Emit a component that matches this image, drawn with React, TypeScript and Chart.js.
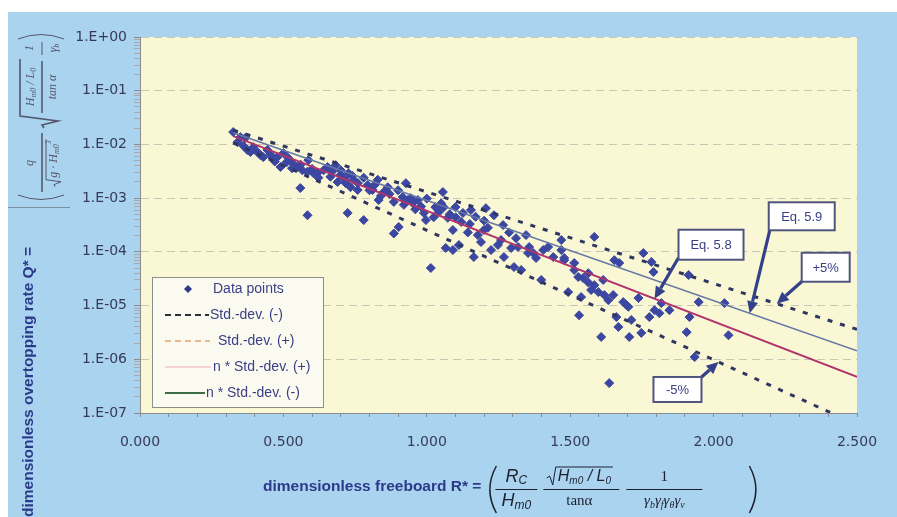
import React, { useEffect, useRef } from "react";
import { Chart, registerables } from "chart.js";

Chart.register(...registerables);

// ---------------- data ----------------
const R_DATA = [
  0.325, 0.35, 0.367, 0.374, 0.385, 0.395, 0.413, 0.43, 0.444, 0.462,
  0.479, 0.49, 0.5, 0.517, 0.531, 0.549, 0.559, 0.566, 0.584, 0.587,
  0.584, 0.605, 0.622, 0.64, 0.654, 0.664, 0.682, 0.689, 0.699, 0.71,
  0.717, 0.724, 0.727, 0.734, 0.745, 0.759, 0.78, 0.794, 0.811, 0.829,
  0.832, 0.85, 0.864, 0.885, 0.885, 0.902, 0.916, 0.927, 0.934, 0.951,
  0.969, 0.944, 0.99, 0.997, 1.014, 1.024, 1.042, 1.056, 1.059, 1.066,
  1.073, 1.091, 1.091, 1.101, 1.112, 1.126, 1.143, 1.154, 1.164, 1.178,
  1.189, 1.206, 1.213, 1.224, 1.234, 1.248, 1.266, 1.269, 1.287, 1.294,
  1.304, 1.311, 1.329, 1.346, 1.357, 1.371, 1.381, 1.399, 1.406, 1.423,
  1.441, 1.469, 1.479, 1.493, 1.514, 1.528, 1.469, 1.479, 1.514, 1.531,
  1.538, 1.545, 1.563, 1.573, 1.584, 1.584, 1.598, 1.608, 1.615, 1.619,
  1.633, 1.636, 1.65, 1.654, 1.661, 1.668, 1.671, 1.685, 1.696, 1.706,
  1.713, 1.738, 1.748, 1.755, 1.776, 1.783, 1.79, 1.794, 1.811, 1.818,
  1.846, 1.906, 1.913, 1.916, 1.934, 1.948, 2.038, 2.052,
  0.34, 0.36, 0.4, 0.42, 0.455, 0.47, 0.51, 0.53, 0.56, 0.6,
  0.62, 0.67, 0.7, 0.72, 0.74, 0.76, 0.78, 0.8, 0.82, 0.84,
  0.87, 0.9, 0.92, 0.96, 0.98, 1.0, 1.03, 1.05, 1.08, 1.1,
  1.12, 1.15, 1.17, 1.2, 1.199, 1.259, 1.318, 1.353, 1.563, 1.703,
];
const Q_DATA = [
  1.7e-2, 1.37e-2, 1.32e-2, 7.9e-3, 7.2e-3, 8.9e-3, 6.9e-3, 5.8e-3, 7.9e-3, 5.6e-3,
  5.8e-3, 3.8e-3, 6.9e-3, 5.6e-3, 4.5e-3, 3.8e-3, 1.54e-3, 3.3e-3, 3.1e-3, 5.1e-3,
  4.8e-4, 2.9e-3, 2.4e-3, 3.3e-3, 3.8e-3, 2.5e-3, 4.1e-3, 2.0e-3, 2.7e-3, 2.4e-3,
  1.9e-3, 5.3e-4, 2.9e-3, 1.6e-3, 2.2e-3, 1.42e-3, 3.9e-4, 1.75e-3, 1.42e-3, 2.2e-3,
  9.2e-4, 1.3e-3, 1.6e-3, 8.5e-4, 2.2e-4, 2.9e-4, 1.05e-3, 1.9e-3, 9.2e-4, 8.1e-4,
  9.2e-4, 1.0e-3, 5.3e-4, 3.9e-4, 5.0e-5, 4.4e-4, 5.5e-4, 1.3e-3, 6.8e-4, 1.18e-4,
  4.3e-4, 1.08e-4, 2.55e-4, 4.4e-4, 1.34e-4, 5.3e-4, 2.3e-4, 6.0e-4, 8.0e-5, 2.05e-4,
  1.52e-4, 6.5e-4, 2.8e-4, 1.08e-4, 4.8e-4, 1.34e-4, 3.15e-4, 8.0e-5, 2.3e-4, 1.18e-4,
  5.2e-5, 1.8e-4, 4.6e-5, 2.05e-4, 1.23e-4, 9.5e-5, 7.7e-5, 3.0e-5, 1.08e-4, 1.23e-4,
  8.0e-5, 1.66e-4, 7.7e-5, 1.78e-5, 6.2e-5, 3.4e-5, 1.08e-4, 7.0e-5, 4.6e-5, 6.6e-6,
  1.44e-5, 3.25e-5, 2.7e-5, 1.95e-5, 1.9e-4, 2.4e-5, 1.78e-5, 2.6e-6, 3.0e-5, 1.57e-5,
  1.26e-5, 3.6e-7, 1.57e-5, 7.0e-5, 6.1e-6, 4.0e-6, 6.2e-5, 1.16e-5, 1.02e-5, 2.6e-6,
  5.4e-6, 1.38e-5, 3.1e-6, 9.5e-5, 6.1e-6, 6.5e-5, 4.2e-5, 8.2e-6, 7.2e-6, 1.11e-5,
  8.2e-6, 3.2e-6, 3.7e-5, 6.1e-6, 1.1e-6, 1.16e-5, 1.11e-5, 2.8e-6,
  1.1e-2, 9.5e-3, 8.0e-3, 6.3e-3, 6.5e-3, 4.8e-3, 4.6e-3, 3.6e-3, 4.2e-3, 3.5e-3,
  3.0e-3, 3.1e-3, 3.3e-3, 2.1e-3, 2.6e-3, 1.9e-3, 2.4e-3, 1.4e-3, 1.8e-3, 1.1e-3,
  1.2e-3, 1.4e-3, 7.5e-4, 6.2e-4, 7.0e-4, 9.8e-4, 6.8e-4, 8.0e-4, 5.0e-4, 6.8e-4,
  3.6e-4, 3.3e-4, 4.5e-4, 3.8e-4, 2.55e-4, 1.66e-4, 1.23e-4, 9.5e-5, 4.0e-5, 9.5e-6,
];

// line end points (R*, Q*)
const LINE_R = [0.325, 2.5];
const EQ58_Q = [1.43e-2, 4.7e-7];
const EQ59_Q = [1.65e-2, 1.44e-6];
const PLUS5_Q = [1.85e-2, 3.6e-6];
const MINUS5_Q = [1.07e-2, 6.1e-8];

const X_MIN = 0;
const X_MAX = 2.5;
const X_STEP = 0.1;
const X_LABEL_EVERY = 0.5;
const Y_MIN = 1e-7;
const Y_MAX = 1;

const LEGEND_LABELS = ["Data points", "Std.-dev. (-)", "Std.-dev. (+)", "n * Std.-dev. (+)", "n * Std.-dev. (-)"];
const ANNOT_TEXTS = ["Eq. 5.8", "Eq. 5.9", "+5%", "-5%"];
const ANNOT_R = [1.794, 2.126, 2.22, 2.017];
const ANNOT_LINES = [EQ58_Q, EQ59_Q, PLUS5_Q, MINUS5_Q];

const X_TITLE = "dimensionless freeboard R* =";
const Y_TITLE = "dimensionless overtopping rate Q* =";

// ---------------- styles ----------------
const BLUE = "#a9d3ef";
const PLOT_BG = "#f9f7d4";
const POINT_COLOR = "#3b47a1";
const TICK_COLOR = "#383b58";
const TITLE_COLOR = "#2d3a8a";
const LEGEND_TEXT = "#3a3f85";
const SANS = '"Liberation Sans", Arial, sans-serif';
const SERIF = '"Liberation Serif", "Times New Roman", serif';
const DEJAVU = '"DejaVu Sans", Verdana, sans-serif';

const ANNOT_LAYOUT = [
  { dx: 24, dy: -69, w: 65, h: 30, tx: 24, ty: -41 },
  { dx: 19, dy: -111, w: 66, h: 28, tx: 20, ty: -83 },
  { dx: 25, dy: -51, w: 48, h: 29, tx: 26, ty: -23 },
  { dx: -65, dy: 15, w: 48, h: 25, tx: -18, ty: 16 },
];

const isPow10 = (v: number) => {
  const l = Math.log10(v);
  return Math.abs(l - Math.round(l)) < 1e-6;
};
const isIntMantissa = (v: number) => {
  const e = Math.floor(Math.log10(v) + 1e-9);
  const m = v / Math.pow(10, e);
  return Math.abs(m - Math.round(m)) < 1e-6;
};
const fmtExp = (v: number) => {
  const e = Math.round(Math.log10(v));
  const s = e < 0 ? "-" : "+";
  return `1.E${s}${String(Math.abs(e)).padStart(2, "0")}`;
};

function lineY(chart: any, qs: number[], r: number) {
  const t = (r - LINE_R[0]) / (LINE_R[1] - LINE_R[0]);
  const lq = Math.log10(qs[0]) + t * (Math.log10(qs[1]) - Math.log10(qs[0]));
  return chart.scales.y.getPixelForValue(Math.pow(10, lq));
}

function arrow(ctx: CanvasRenderingContext2D, x1: number, y1: number, x2: number, y2: number) {
  const ang = Math.atan2(y2 - y1, x2 - x1);
  const hl = 12, hw = 5.5;
  const bx = x2 - hl * Math.cos(ang), by = y2 - hl * Math.sin(ang);
  ctx.beginPath();
  ctx.moveTo(x1, y1);
  ctx.lineTo(bx, by);
  ctx.stroke();
  ctx.beginPath();
  ctx.moveTo(x2, y2);
  ctx.lineTo(bx + hw * Math.sin(ang), by - hw * Math.cos(ang));
  ctx.lineTo(bx - hw * Math.sin(ang), by + hw * Math.cos(ang));
  ctx.closePath();
  ctx.fill();
}

type Run = { t: string; f: string; dy?: number };
function runsWidth(ctx: CanvasRenderingContext2D, runs: Run[]) {
  let w = 0;
  for (const r of runs) { ctx.font = r.f; w += ctx.measureText(r.t).width; }
  return w;
}
function drawRuns(ctx: CanvasRenderingContext2D, runs: Run[], cx: number, cy: number) {
  const w = runsWidth(ctx, runs);
  let x = cx - w / 2;
  ctx.textAlign = "left";
  ctx.textBaseline = "middle";
  for (const r of runs) {
    ctx.font = r.f;
    ctx.fillText(r.t, x, cy + (r.dy || 0));
    x += ctx.measureText(r.t).width;
  }
  return w;
}

function drawAnnotations(chart: any, ctx: CanvasRenderingContext2D) {
  const xs = chart.scales.x;
  ctx.save();
  for (let i = 0; i < ANNOT_TEXTS.length; i++) {
    const L = ANNOT_LAYOUT[i];
    const px = xs.getPixelForValue(ANNOT_R[i]);
    const py = lineY(chart, ANNOT_LINES[i], ANNOT_R[i]);
    ctx.strokeStyle = "#34408a";
    ctx.fillStyle = "#34408a";
    ctx.lineWidth = 3.2;
    arrow(ctx, px + L.tx, py + L.ty, px, py);
    ctx.fillStyle = "#ffffff";
    ctx.fillRect(px + L.dx, py + L.dy, L.w, L.h);
    ctx.strokeStyle = "#50557e";
    ctx.lineWidth = 2;
    ctx.strokeRect(px + L.dx, py + L.dy, L.w, L.h);
    ctx.fillStyle = LEGEND_TEXT;
    ctx.font = `13px ${SANS}`;
    ctx.textAlign = "center";
    ctx.textBaseline = "middle";
    ctx.fillText(ANNOT_TEXTS[i], px + L.dx + L.w / 2, py + L.dy + L.h / 2 + 1);
  }
  ctx.restore();
}

function drawLegend(chart: any, ctx: CanvasRenderingContext2D) {
  const ca = chart.chartArea;
  const bx = ca.left + 12, by = ca.top + 240, bw = 171, bh = 130;
  ctx.save();
  ctx.fillStyle = "#fbfaf1";
  ctx.fillRect(bx, by, bw, bh);
  ctx.strokeStyle = "#8d8d8d";
  ctx.lineWidth = 1;
  ctx.strokeRect(bx + 0.5, by + 0.5, bw, bh);
  const textX = [61, 58, 66, 61, 54];
  const lineEnd = [0, 57, 58, 59, 53];
  for (let i = 0; i < LEGEND_LABELS.length; i++) {
    const cy = by + 12 + i * 26;
    if (i === 0) {
      ctx.fillStyle = "#2e3a8c";
      const cx = bx + 36;
      ctx.beginPath();
      ctx.moveTo(cx, cy - 4); ctx.lineTo(cx + 4, cy); ctx.lineTo(cx, cy + 4); ctx.lineTo(cx - 4, cy);
      ctx.closePath(); ctx.fill();
    } else {
      ctx.beginPath();
      ctx.moveTo(bx + 13, cy);
      ctx.lineTo(bx + lineEnd[i], cy);
      if (i === 1) { ctx.strokeStyle = "#2b2f3a"; ctx.lineWidth = 2.2; ctx.setLineDash([6, 4]); }
      if (i === 2) { ctx.strokeStyle = "#e6a46e"; ctx.lineWidth = 1.4; ctx.setLineDash([6, 4]); }
      if (i === 3) { ctx.strokeStyle = "#f0a8b4"; ctx.lineWidth = 1.2; ctx.setLineDash([]); }
      if (i === 4) { ctx.strokeStyle = "#3d6e45"; ctx.lineWidth = 2; ctx.setLineDash([]); }
      ctx.stroke();
      ctx.setLineDash([]);
    }
    ctx.fillStyle = LEGEND_TEXT;
    ctx.font = `14px ${SANS}`;
    ctx.textAlign = "left";
    ctx.textBaseline = "middle";
    ctx.fillText(LEGEND_LABELS[i], bx + textX[i], cy);
  }
  ctx.restore();
}

function drawXTitle(ctx: CanvasRenderingContext2D) {
  ctx.save();
  ctx.fillStyle = TITLE_COLOR;
  ctx.font = `bold 15.5px ${SANS}`;
  ctx.textAlign = "left";
  ctx.textBaseline = "middle";
  const tx = 255, ty = 475;
  ctx.fillText(X_TITLE, tx, ty);
  const f = tx + ctx.measureText(X_TITLE).width + 5;
  const col = "#1e2030";
  ctx.strokeStyle = col;
  ctx.fillStyle = col;
  ctx.lineWidth = 1.5;
  // parentheses
  ctx.beginPath(); ctx.moveTo(f + 10, 454); ctx.quadraticCurveTo(f - 3, 477.5, f + 10, 501); ctx.stroke();
  ctx.beginPath(); ctx.moveTo(f + 263, 454); ctx.quadraticCurveTo(f + 276, 477.5, f + 263, 501); ctx.stroke();
  const nY = 465, dY = 489, barY = 477.5;
  ctx.lineWidth = 1;
  // fraction 1
  const c1 = f + 30;
  const si = `italic 18px ${SANS}`, ss = `italic 12px ${SANS}`;
  drawRuns(ctx, [{ t: "R", f: si }, { t: "C", f: ss, dy: 4 }], c1, nY);
  drawRuns(ctx, [{ t: "H", f: si }, { t: "m0", f: ss, dy: 5 }], c1, dY);
  ctx.beginPath(); ctx.moveTo(c1 - 21, barY); ctx.lineTo(c1 + 21, barY); ctx.stroke();
  // fraction 2
  const c2 = f + 93;
  const mi = `italic 16px ${SANS}`, ms = `italic 10px ${SANS}`;
  const w2 = drawRuns(ctx, [{ t: "H", f: mi }, { t: "m0", f: ms, dy: 4 }, { t: " / ", f: mi }, { t: "L", f: mi }, { t: "0", f: ms, dy: 4 }], c2 + 5, nY);
  const rx = c2 + 5 - w2 / 2 - 2;
  ctx.beginPath();
  ctx.moveTo(rx - 9, nY + 1); ctx.lineTo(rx - 6, nY - 1); ctx.lineTo(rx - 3, nY + 8); ctx.lineTo(rx, nY - 10); ctx.lineTo(rx + w2 + 4, nY - 10);
  ctx.stroke();
  drawRuns(ctx, [{ t: "tan", f: `15px ${SERIF}` }, { t: "α", f: `15px ${SERIF}` }], c2, dY);
  ctx.beginPath(); ctx.moveTo(c2 - 36, barY); ctx.lineTo(c2 + 40, barY); ctx.stroke();
  // fraction 3
  const c3 = f + 178;
  drawRuns(ctx, [{ t: "1", f: `15px ${SERIF}` }], c3, nY);
  const gi = `italic 15px ${SERIF}`, gs = `italic 10px ${SERIF}`;
  drawRuns(ctx, [
    { t: "γ", f: gi }, { t: "b", f: gs, dy: 4 },
    { t: "γ", f: gi }, { t: "f", f: gs, dy: 4 },
    { t: "γ", f: gi }, { t: "θ", f: gs, dy: 4 },
    { t: "γ", f: gi }, { t: "v", f: gs, dy: 4 },
  ], c3, dY);
  ctx.beginPath(); ctx.moveTo(c3 - 38, barY); ctx.lineTo(c3 + 38, barY); ctx.stroke();
  ctx.restore();
}

function drawYTitle(ctx: CanvasRenderingContext2D) {
  ctx.save();
  ctx.translate(21, 505);
  ctx.rotate(-Math.PI / 2);
  ctx.fillStyle = TITLE_COLOR;
  ctx.font = `bold 15.5px ${SANS}`;
  ctx.textAlign = "left";
  ctx.textBaseline = "middle";
  ctx.fillText(Y_TITLE, 0, 0);
  ctx.restore();

  // separator line of the formula block
  ctx.save();
  ctx.strokeStyle = "#7f8fa3";
  ctx.lineWidth = 1;
  ctx.beginPath(); ctx.moveTo(0, 195.5); ctx.lineTo(62, 195.5); ctx.stroke();

  // rotated formula (local x runs upward from y=193, local y positive = right)
  ctx.translate(34, 193);
  ctx.rotate(-Math.PI / 2);
  const col = "#55586a";
  ctx.strokeStyle = col;
  ctx.fillStyle = col;
  ctx.lineWidth = 1;
  ctx.beginPath(); ctx.moveTo(10, -24); ctx.quadraticCurveTo(1, -1, 10, 22); ctx.stroke();
  ctx.beginPath(); ctx.moveTo(166, -24); ctx.quadraticCurveTo(175, -1, 166, 22); ctx.stroke();
  const fi = `italic 12px ${SERIF}`, fs = `italic 8px ${SERIF}`;
  ctx.lineWidth = 1.6;
  ctx.beginPath(); ctx.moveTo(13, 0); ctx.lineTo(72, 0); ctx.stroke();
  drawRuns(ctx, [{ t: "q", f: fi }], 42, -12);
  const wd = drawRuns(ctx, [{ t: "g · H", f: fi }, { t: "m0", f: fs, dy: 3 }, { t: "3", f: fs, dy: -5 }], 46, 12);
  ctx.lineWidth = 1;
  const r0 = 46 - wd / 2 - 2;
  ctx.beginPath();
  ctx.moveTo(r0 - 7, 13); ctx.lineTo(r0 - 5, 12); ctx.lineTo(r0 - 2, 19); ctx.lineTo(r0, 4); ctx.lineTo(r0 + wd + 3, 4);
  ctx.stroke();
  ctx.lineWidth = 1.6;
  ctx.beginPath();
  ctx.moveTo(77, 2); ctx.lineTo(80, 0); ctx.lineTo(84, 16); ctx.lineTo(89, -22); ctx.lineTo(146, -22);
  ctx.stroke();
  ctx.beginPath(); ctx.moveTo(92, 0); ctx.lineTo(144, 0); ctx.stroke();
  drawRuns(ctx, [{ t: "H", f: fi }, { t: "m0", f: fs, dy: 3 }, { t: " / L", f: fi }, { t: "0", f: fs, dy: 3 }], 118, -11);
  drawRuns(ctx, [{ t: "tan α", f: fi }], 118, 11);
  ctx.lineWidth = 1;
  ctx.beginPath(); ctx.moveTo(150, 0); ctx.lineTo(163, 0); ctx.stroke();
  drawRuns(ctx, [{ t: "1", f: fi }], 157, -12);
  drawRuns(ctx, [{ t: "γ", f: fi }, { t: "b", f: fs, dy: 3 }], 157, 12);
  ctx.restore();
}

const overlayPlugin = {
  id: "overlay",
  beforeDraw(chart: any) {
    const { ctx, chartArea } = chart;
    ctx.save();
    ctx.fillStyle = BLUE;
    ctx.fillRect(0, 0, chart.width, chart.height);
    ctx.fillStyle = PLOT_BG;
    ctx.fillRect(chartArea.left, chartArea.top, chartArea.right - chartArea.left, chartArea.bottom - chartArea.top);
    ctx.restore();
  },
  afterDraw(chart: any) {
    const ctx = chart.ctx;
    drawAnnotations(chart, ctx);
    drawLegend(chart, ctx);
    drawXTitle(ctx);
    drawYTitle(ctx);
  },
};

const toPts = (rs: number[], qs: number[]) => rs.map((r, i) => ({ x: r, y: qs[i] }));

export default function App() {
  const ref = useRef<HTMLCanvasElement>(null);
  useEffect(() => {
    const lineBase = { type: "line", showLine: true, pointRadius: 0, fill: false, order: 1, tension: 0 };
    const chart = new Chart(ref.current as HTMLCanvasElement, {
      type: "scatter",
      data: {
        datasets: [
          { ...lineBase, label: "+5%", data: toPts(LINE_R, PLUS5_Q), borderColor: "#2f3660", borderWidth: 3, borderDash: [5, 8] },
          { ...lineBase, label: "-5%", data: toPts(LINE_R, MINUS5_Q), borderColor: "#2f3660", borderWidth: 3, borderDash: [5, 8] },
          { ...lineBase, label: "Eq. 5.9", data: toPts(LINE_R, EQ59_Q), borderColor: "#6677a6", borderWidth: 1.6 },
          { ...lineBase, label: "Eq. 5.8", data: toPts(LINE_R, EQ58_Q), borderColor: "#b2336c", borderWidth: 2 },
          {
            label: "Data points",
            data: toPts(R_DATA, Q_DATA),
            pointStyle: "rectRot",
            pointRadius: 4.5,
            backgroundColor: POINT_COLOR,
            borderColor: POINT_COLOR,
            borderWidth: 1,
            showLine: false,
            order: 10,
          },
        ] as any,
      },
      options: {
        animation: false,
        responsive: true,
        maintainAspectRatio: false,
        layout: { padding: { top: 25, right: 40, left: 0, bottom: 0 } },
        plugins: { legend: { display: false }, tooltip: { enabled: false } },
        scales: {
          x: {
            type: "linear",
            min: X_MIN,
            max: X_MAX,
            ticks: {
              stepSize: X_STEP,
              autoSkip: false,
              maxRotation: 0,
              padding: 17,
              color: TICK_COLOR,
              font: { family: DEJAVU, size: 14 },
              callback: (v: any) => {
                const n = Number(v) / X_LABEL_EVERY;
                return Math.abs(n - Math.round(n)) < 1e-6 ? Number(v).toFixed(3) : "";
              },
            },
            grid: { drawOnChartArea: false, drawTicks: true, tickLength: 4, color: "#8c8c8c", tickColor: "#8c8c8c" },
            border: { display: true, color: "#8c8c8c", width: 1 },
            afterFit: (s: any) => { s.height = 104; },
          },
          y: {
            type: "logarithmic",
            min: Y_MIN,
            max: Y_MAX,
            afterBuildTicks: (s: any) => { s.ticks = s.ticks.filter((t: any) => isIntMantissa(t.value)); },
            ticks: {
              autoSkip: false,
              padding: 7,
              color: TICK_COLOR,
              font: { family: DEJAVU, size: 14 },
              callback: (v: any) => (isPow10(Number(v)) ? fmtExp(Number(v)) : ""),
            },
            grid: {
              color: (c: any) => (c.tick && isPow10(c.tick.value) ? "#c9c7b4" : "rgba(0,0,0,0)"),
              tickColor: (c: any) => (c.tick && isPow10(c.tick.value) ? "#8c8c8c" : "#aaaaaa"),
              tickLength: 6,
              lineWidth: 1,
            },
            border: { display: true, color: "#8c8c8c", width: 1, dash: [8, 5] },
            afterFit: (s: any) => { s.width = 132; },
          },
        },
      } as any,
      plugins: [overlayPlugin],
    });
    return () => chart.destroy();
  }, []);
  return (
    <div style={{ position: "fixed", left: 8, top: 12, width: 889, height: 505 }}>
      <canvas ref={ref} />
    </div>
  );
}
